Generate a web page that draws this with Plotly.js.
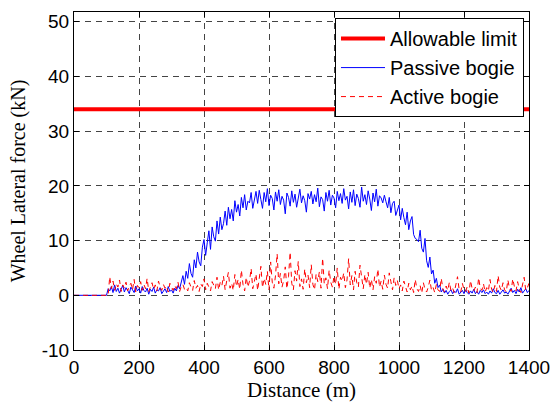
<!DOCTYPE html>
<html>
<head>
<meta charset="utf-8">
<script src="https://cdn.plot.ly/plotly-3.0.1.min.js"></script>
<style>
  html, body { margin: 0; padding: 0; background: #fff; }
  #chart { width: 558px; height: 402px; }
</style>
</head>
<body>
<div id="chart"></div>
<script>
// Sampling interval along the track (m)
const stepM = 5;

// Safety threshold for wheel lateral force (kN)
const limitDistance = [0, 1400];
const limitForce = [34, 34];

// Wheel lateral force, conventional (passive) bogie, kN, one sample every 5 m from 0 m
const passiveForce = [
  0,0,0,0,0,0,0,0,0,0,0,0,0,0,0,0,0,0,0,0,0,
  1.2,0.8,1.6,0.5,1.9,0.7,1.3,0.4,1.1,1.8,
  0.6,1.4,0.9,0.3,1.5,1.0,0.5,1.7,0.8,1.2,
  0.4,1.6,0.9,0.6,1.3,0.2,1.1,0.7,1.5,0.4,
  1.0,0.8,1.4,0.3,0.9,1.2,0.5,1.6,0.7,1.0,
  0.4,1.3,0.8,
  1.8,1.2,2.5,3.6,2.0,4.4,3.1,5.8,4.0,3.3,
  6.5,5.0,7.9,6.1,5.4,8.8,10.2,7.3,9.6,11.8,
  8.4,12.5,10.7,9.9,13.6,11.2,14.3,12.0,13.1,15.4,
  12.8,16.1,14.0,15.7,13.6,17.3,15.2,16.6,14.5,17.9,
  16.0,18.4,15.6,17.2,16.9,18.8,15.9,17.5,19.0,
  16.8,19.2,17.5,15.9,18.8,17.1,19.5,16.4,18.3,17.7,
  15.6,18.9,17.2,19.3,16.6,18.1,17.4,14.9,18.7,17.9,
  16.3,19.1,17.0,18.5,16.1,17.8,19.4,16.9,18.2,17.3,
  15.2,18.6,17.6,19.0,16.7,18.4,17.1,19.6,16.2,18.0,
  17.5,15.4,18.8,17.2,19.2,16.5,18.3,17.8,16.0,19.0,
  17.3,18.6,16.8,19.5,17.4,18.1,15.8,18.9,17.0,19.3,
  16.4,18.5,17.7,16.1,19.8,17.2,18.4,16.6,19.1,17.6,
  15.5,18.7,17.1,19.4,16.3,18.2,17.8,16.9,
  18.3,17.1,16.0,17.9,15.1,16.8,17.2,14.6,15.5,16.5,
  13.8,15.9,14.2,12.9,15.2,12.0,13.6,14.4,11.1,10.4,
  10.2,9.8,11.9,8.6,7.9,10.4,6.3,5.1,7.0,3.9,
  4.6,2.2,3.1,1.4,1.9,0.6,
  1.1,0.4,0.9,0.2,0.7,1.0,0.3,0.8,0.5,1.2,
  0.2,0.6,0.9,0.3,1.0,0.5,0.2,0.8,0.4,1.1,
  0.3,0.7,0.2,0.9,0.5,1.0,0.3,0.6,0.2,0.8,
  0.4,1.2,0.5,0.3,0.9,0.2,0.7,1.0,0.4,0.6,
  0.2,0.8,1.3,0.5,0.9,0.3,1.1,0.6,1.4,0.4,
  0.8,1.2,0.5,0.9
];

// Wheel lateral force, actively steered bogie, kN, one sample every 5 m from 0 m
const activeForce = [
  0,0,0,0,0,0,0,0,0,0,0,0,0,0,0,0,0,0,0,0,0,0,
  3.4,1.2,2.6,0.9,2.1,1.5,2.8,0.7,1.9,1.3,
  2.4,0.8,1.7,2.2,1.0,2.9,0.6,1.8,1.4,2.5,
  0.9,2.0,1.2,3.1,0.7,1.6,2.3,1.1,1.9,0.8,
  2.6,1.4,0.9,2.0,1.3,1.7,0.6,2.2,1.5,0.9,
  1.8,1.2,2.4,0.7,1.6,2.0,1.1,1.4,0.8,2.3,
  1.5,0.9,2.7,1.3,1.8,0.7,2.1,1.6,3.0,1.0,
  2.2,1.4,0.8,2.5,1.9,1.2,3.3,1.0,2.4,
  1.8,3.5,1.0,2.7,4.2,1.3,2.2,0.9,3.8,1.6,
  2.9,1.1,4.6,2.0,0.8,3.3,1.5,2.6,4.9,1.2,
  2.3,3.9,0.9,2.8,5.3,1.4,3.1,2.0,4.4,1.0,
  6.1,2.4,1.3,3.6,7.6,2.1,4.0,1.5,2.7,5.2,
  1.2,3.4,7.9,2.2,1.0,4.5,2.6,6.2,1.6,3.0,
  1.1,4.8,2.3,3.7,1.4,5.6,2.0,1.0,3.9,2.5,
  4.3,1.3,6.8,2.1,3.2,1.2,4.6,2.4,1.5,3.5,
  2.0,5.0,1.1,3.3,2.6,4.1,1.4,2.8,6.7,1.9,
  3.6,1.0,4.4,2.3,1.5,5.5,2.7,1.2,3.8,2.0,
  4.2,1.3,2.9,1.0,3.4,2.2,4.8,1.5,2.6,1.1,
  3.7,2.0,1.3,4.1,2.5,1.0,3.2,1.8,2.7,1.2,
  1.9,0.8,2.6,1.3,0.6,2.2,1.0,1.7,0.5,2.9,
  1.2,0.7,1.8,0.4,2.3,1.1,0.6,1.5,2.8,0.9,
  1.4,0.5,2.0,1.0,0.7,3.1,1.2,0.6,1.7,0.9,
  2.4,0.8,1.3,0.5,1.9,3.4,1.1,0.6,2.2,1.0,
  0.7,1.6,0.4,2.7,1.2,0.8,1.5,0.5,3.2,1.3,
  0.9,2.1,0.6,1.4,0.8,2.9,1.1,0.5,1.8,0.7,
  3.6,1.5,0.9,2.3,1.0,0.6,2.8,1.2,0.7,3.0,
  1.6,0.8,2.5,1.1,0.5,1.9,3.3,0.9,1.4,2.2
];

const passiveDistance = passiveForce.map((_, i) => i * stepM);
const activeDistance = activeForce.map((_, i) => i * stepM);

const xTicks = [0, 200, 400, 600, 800, 1000, 1200, 1400];
const yTicks = [-10, 0, 10, 20, 30, 40, 50];
const yTickText = ['-10', '0', '10', '20', '30', '40', '50'];

const traces = [
  {
    x: limitDistance, y: limitForce, type: 'scatter', mode: 'lines',
    name: 'Allowable limit',
    line: { color: '#ff0000', width: 4 }
  },
  {
    x: passiveDistance, y: passiveForce, type: 'scatter', mode: 'lines',
    name: 'Passive bogie',
    line: { color: '#0000ff', width: 1 }
  },
  {
    x: activeDistance, y: activeForce, type: 'scatter', mode: 'lines',
    name: 'Active bogie',
    line: { color: '#ff0000', width: 1, dash: '5px,4px' }
  }
];

const axisCommon = {
  showline: true, linecolor: '#000', linewidth: 1, mirror: 'ticks',
  ticks: 'inside', ticklen: 5, tickcolor: '#000',
  showgrid: true, gridcolor: '#444', griddash: '6px,5px', gridwidth: 1,
  zeroline: false,
  tickfont: { family: 'Liberation Sans, Arial, sans-serif', size: 19, color: '#000' }
};

const layout = {
  width: 558, height: 402,
  margin: { l: 74, r: 29, t: 12, b: 52 },
  paper_bgcolor: '#fff', plot_bgcolor: '#fff',
  showlegend: true,
  xaxis: Object.assign({}, axisCommon, {
    range: [0, 1400], tickvals: xTicks,
    title: { text: 'Distance (m)', standoff: 4,
      font: { family: 'Liberation Serif, Times New Roman, serif', size: 21, color: '#000' } }
  }),
  yaxis: Object.assign({}, axisCommon, {
    range: [-10, 51.8], tickvals: yTicks, ticktext: yTickText,
    title: { text: 'Wheel Lateral force (kN)', standoff: 10,
      font: { family: 'Liberation Serif, Times New Roman, serif', size: 20, color: '#000' } }
  }),
  legend: {
    x: 0.989, xanchor: 'right', y: 0.982, yanchor: 'top',
    bgcolor: '#fff', bordercolor: '#000', borderwidth: 1,
    itemwidth: 44,
    font: { family: 'Liberation Sans, Arial, sans-serif', size: 20, color: '#000' }
  }
};

Plotly.newPlot('chart', traces, layout, { displayModeBar: false, staticPlot: true });
</script>
</body>
</html>
